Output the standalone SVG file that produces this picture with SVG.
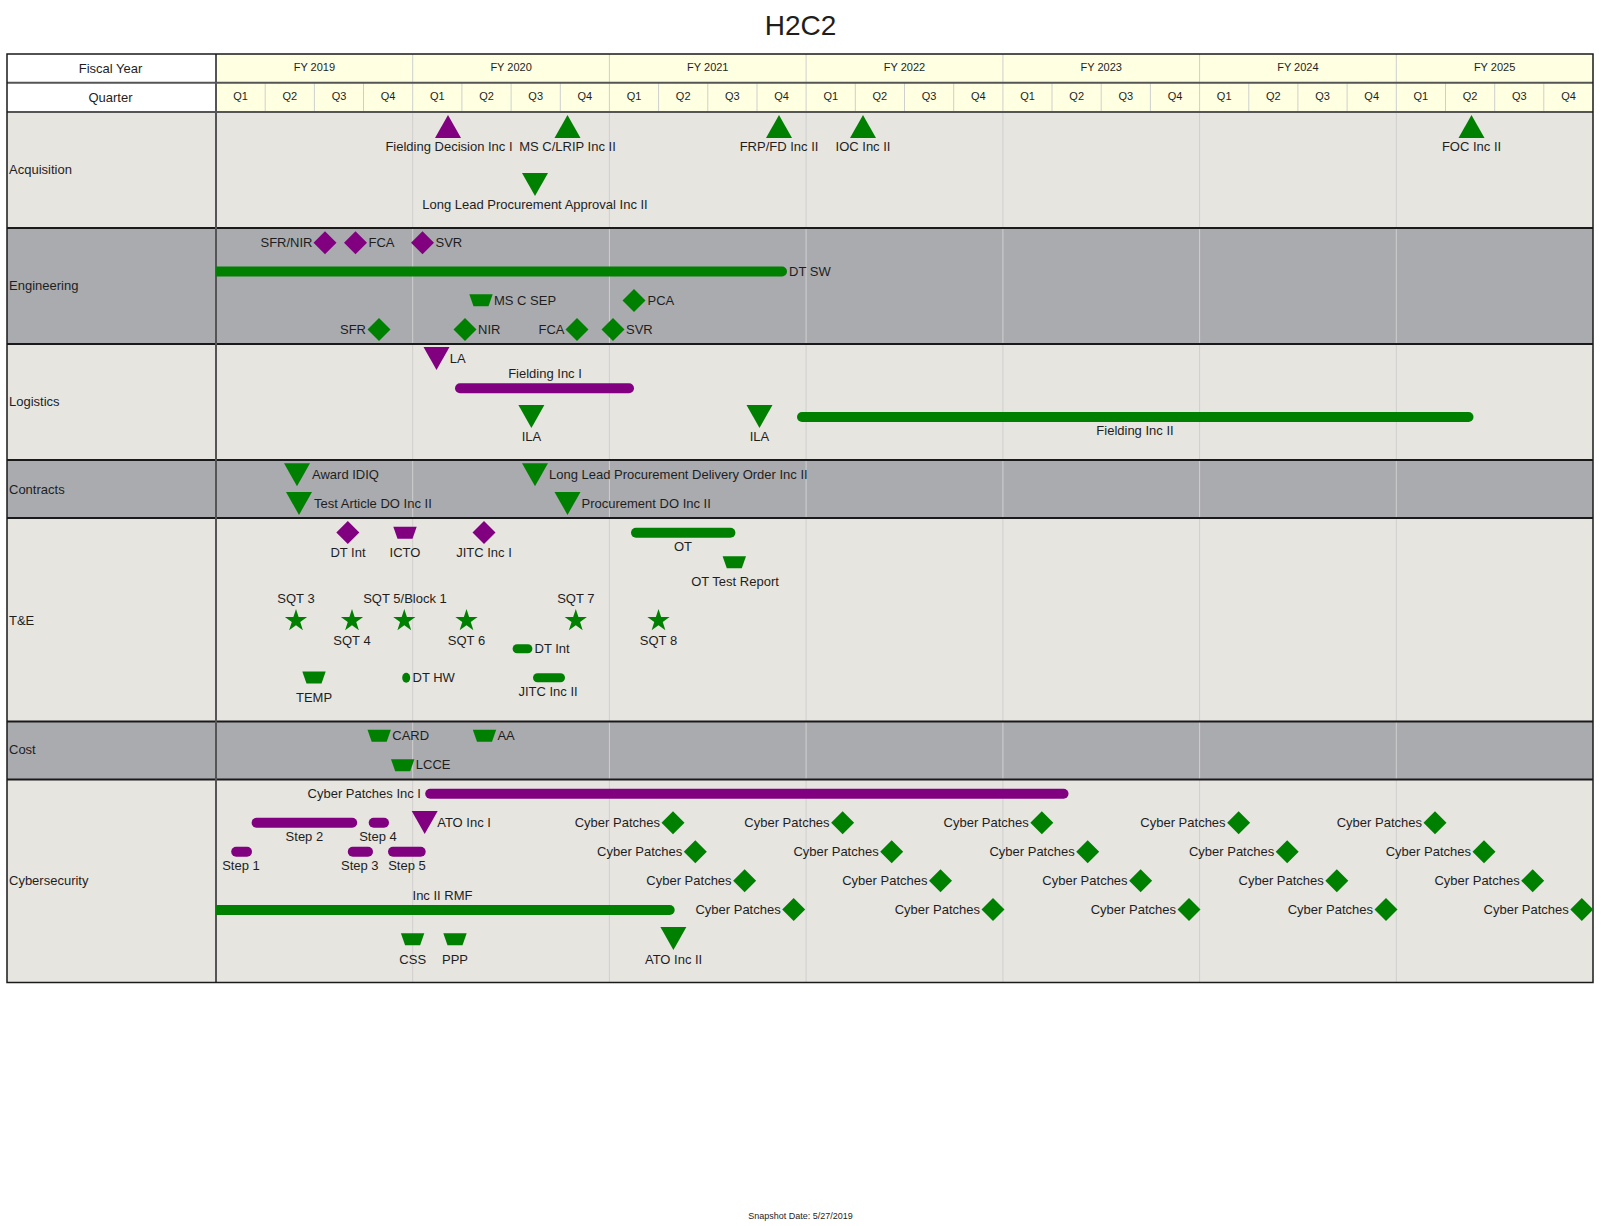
<svg xmlns="http://www.w3.org/2000/svg" xmlns:xlink="http://www.w3.org/1999/xlink" width="1601" height="1226" viewBox="0 0 1601 1226">
<style>
text{font-family:"Liberation Sans",Arial,sans-serif;font-size:13px;fill:#1e1e1e}
.hd{font-size:11px}
.m{text-anchor:middle}
.e{text-anchor:end}
.g{fill:#008000}
.p{fill:#800080}
.lt{fill:#E6E5E0}
.dk{fill:#AAABAF}
.yl{stroke:#CFCFCF;stroke-width:1}
.ql{stroke:#CFCFCF;stroke-width:1}
.rs{stroke:#1a1a1a;stroke-width:2}
.hs{stroke:#555;stroke-width:2}
</style>
<defs>
<path id="dia" d="M0,-11.5 L11.5,0 L0,11.5 L-11.5,0 Z"/>
<path id="up" d="M0,-11.5 L13,11.5 L-13,11.5 Z"/>
<path id="dn" d="M-13,-11.5 L13,-11.5 L0,11.5 Z"/>
<path id="trap" d="M-11.7,-6 L11.7,-6 L7.5,6 L-7.5,6 Z"/>
<path id="star" d="M0,-11.7 L2.63,-3.62 L11.13,-3.62 L4.25,1.38 L6.88,9.47 L0,4.47 L-6.88,9.47 L-4.25,1.38 L-11.13,-3.62 L-2.63,-3.62 Z"/>
</defs>
<rect width="1601" height="1226" fill="#fff"/>
<text x="800.5" y="34.5" class="m" style="font-size:28px">H2C2</text>

<g id="grid">
<rect x="7" y="54" width="209" height="58" fill="#fff"/>
<rect x="216" y="54" width="1377" height="58" fill="#FFFFE1"/>
<rect x="7" y="112" width="1586" height="116" class="lt"/>
<rect x="7" y="228" width="1586" height="116" class="dk"/>
<rect x="7" y="344" width="1586" height="116" class="lt"/>
<rect x="7" y="460" width="1586" height="58" class="dk"/>
<rect x="7" y="518" width="1586" height="203.5" class="lt"/>
<rect x="7" y="721.5" width="1586" height="58" class="dk"/>
<rect x="7" y="779.5" width="1586" height="203" class="lt"/>
<g class="ql">
<path d="M265.2,82.7V112M314.4,82.7V112M363.5,82.7V112M461.9,82.7V112M511.1,82.7V112M560.3,82.7V112M658.6,82.7V112M707.8,82.7V112M757,82.7V112M855.3,82.7V112M904.5,82.7V112M953.7,82.7V112M1052,82.7V112M1101.2,82.7V112M1150.4,82.7V112M1248.8,82.7V112M1297.9,82.7V112M1347.1,82.7V112M1445.5,82.7V112M1494.7,82.7V112M1543.8,82.7V112"/>
</g>
<g class="yl">
<path d="M412.7,54V982.5M609.4,54V982.5M806.1,54V982.5M1002.9,54V982.5M1199.6,54V982.5M1396.3,54V982.5"/>
</g>
<path class="hs" d="M7,82.7H1593M7,112H1593"/>
<path class="rs" d="M7,228H1593M7,344H1593M7,460H1593M7,518H1593M7,721.5H1593M7,779.5H1593"/>
<path d="M216,54V982.5" stroke="#555" stroke-width="2"/>
<rect x="7" y="54" width="1586" height="928.5" fill="none" stroke="#1a1a1a" stroke-width="1.5"/>
</g>

<g id="header">
<text x="110.5" y="73" class="m">Fiscal Year</text>
<text x="110.5" y="101.5" class="m">Quarter</text>
<g class="hd">
<text x="314.4" y="70.7" class="m hd">FY 2019</text>
<text x="511.1" y="70.7" class="m hd">FY 2020</text>
<text x="707.8" y="70.7" class="m hd">FY 2021</text>
<text x="904.5" y="70.7" class="m hd">FY 2022</text>
<text x="1101.2" y="70.7" class="m hd">FY 2023</text>
<text x="1297.9" y="70.7" class="m hd">FY 2024</text>
<text x="1494.6" y="70.7" class="m hd">FY 2025</text>
<text x="240.6" y="99.7" class="m hd">Q1</text><text x="289.8" y="99.7" class="m hd">Q2</text><text x="339" y="99.7" class="m hd">Q3</text><text x="388.1" y="99.7" class="m hd">Q4</text>
<text x="437.3" y="99.7" class="m hd">Q1</text><text x="486.5" y="99.7" class="m hd">Q2</text><text x="535.7" y="99.7" class="m hd">Q3</text><text x="584.9" y="99.7" class="m hd">Q4</text>
<text x="634" y="99.7" class="m hd">Q1</text><text x="683.2" y="99.7" class="m hd">Q2</text><text x="732.4" y="99.7" class="m hd">Q3</text><text x="781.6" y="99.7" class="m hd">Q4</text>
<text x="830.8" y="99.7" class="m hd">Q1</text><text x="879.9" y="99.7" class="m hd">Q2</text><text x="929.1" y="99.7" class="m hd">Q3</text><text x="978.3" y="99.7" class="m hd">Q4</text>
<text x="1027.5" y="99.7" class="m hd">Q1</text><text x="1076.7" y="99.7" class="m hd">Q2</text><text x="1125.8" y="99.7" class="m hd">Q3</text><text x="1175" y="99.7" class="m hd">Q4</text>
<text x="1224.2" y="99.7" class="m hd">Q1</text><text x="1273.4" y="99.7" class="m hd">Q2</text><text x="1322.6" y="99.7" class="m hd">Q3</text><text x="1371.7" y="99.7" class="m hd">Q4</text>
<text x="1420.9" y="99.7" class="m hd">Q1</text><text x="1470.1" y="99.7" class="m hd">Q2</text><text x="1519.3" y="99.7" class="m hd">Q3</text><text x="1568.5" y="99.7" class="m hd">Q4</text>
</g>
</g>

<g id="row-labels">
<text x="9" y="174">Acquisition</text>
<text x="9" y="290">Engineering</text>
<text x="9" y="406">Logistics</text>
<text x="9" y="493.5">Contracts</text>
<text x="9" y="624.5">T&amp;E</text>
<text x="9" y="754">Cost</text>
<text x="9" y="885">Cybersecurity</text>
</g>

<g id="connectors"></g>

<!-- Acquisition -->
<g id="acq-fielding-decision"><use href="#up" x="448" y="126.5" class="p"/><text x="449" y="151" class="m">Fielding Decision Inc I</text></g>
<g id="acq-msc-lrip"><use href="#up" x="567.5" y="126.5" class="g"/><text x="567.5" y="151" class="m">MS C/LRIP Inc II</text></g>
<g id="acq-frp-fd"><use href="#up" x="779" y="126.5" class="g"/><text x="779" y="151" class="m">FRP/FD Inc II</text></g>
<g id="acq-ioc"><use href="#up" x="863" y="126.5" class="g"/><text x="863" y="151" class="m">IOC Inc II</text></g>
<g id="acq-foc"><use href="#up" x="1471.5" y="126.5" class="g"/><text x="1471.5" y="151" class="m">FOC Inc II</text></g>
<g id="acq-llp-approval"><use href="#dn" x="535" y="184.5" class="g"/><text x="535" y="208.5" class="m">Long Lead Procurement Approval Inc II</text></g>

<!-- Engineering -->
<g id="eng-sfr-nir"><use href="#dia" x="325" y="242.7" class="p"/><text x="312.5" y="247.2" class="e">SFR/NIR</text></g>
<g id="eng-fca-p"><use href="#dia" x="355.5" y="242.7" class="p"/><text x="368.5" y="247.2">FCA</text></g>
<g id="eng-svr-p"><use href="#dia" x="422.5" y="242.7" class="p"/><text x="435.5" y="247.2">SVR</text></g>
<g id="eng-dt-sw"><path d="M216,266.5H782A5,5 0 0 1 782,276.5H216Z" class="g"/><text x="789" y="276">DT SW</text></g>
<g id="eng-msc-sep"><use href="#trap" x="481" y="300.3" class="g"/><text x="494" y="305">MS C SEP</text></g>
<g id="eng-pca"><use href="#dia" x="634" y="300.5" class="g"/><text x="647.5" y="305">PCA</text></g>
<g id="eng-sfr"><use href="#dia" x="379" y="329.5" class="g"/><text x="366" y="334" class="e">SFR</text></g>
<g id="eng-nir"><use href="#dia" x="465" y="329.5" class="g"/><text x="478" y="334">NIR</text></g>
<g id="eng-fca"><use href="#dia" x="577" y="329.5" class="g"/><text x="564.5" y="334" class="e">FCA</text></g>
<g id="eng-svr"><use href="#dia" x="613" y="329.5" class="g"/><text x="626" y="334">SVR</text></g>

<!-- Logistics -->
<g id="log-la"><use href="#dn" x="436.5" y="358.5" class="p"/><text x="449.8" y="363">LA</text></g>
<g id="log-fielding-inc1"><text x="545" y="377.8" class="m">Fielding Inc I</text><rect x="455" y="383.3" width="179" height="10" rx="5" class="p"/></g>
<g id="log-ila1"><use href="#dn" x="531.4" y="416.5" class="g"/><text x="531.4" y="441.2" class="m">ILA</text></g>
<g id="log-ila2"><use href="#dn" x="759.5" y="416.5" class="g"/><text x="759.5" y="441.2" class="m">ILA</text></g>
<g id="log-fielding-inc2"><rect x="797" y="412" width="676.5" height="10" rx="5" class="g"/><text x="1135" y="434.5" class="m">Fielding Inc II</text></g>

<!-- Contracts -->
<g id="con-award-idiq"><use href="#dn" x="297" y="474.7" class="g"/><text x="312" y="479.3">Award IDIQ</text></g>
<g id="con-test-article"><use href="#dn" x="299" y="503.5" class="g"/><text x="314" y="508">Test Article DO Inc II</text></g>
<g id="con-llp-do"><use href="#dn" x="535" y="474.7" class="g"/><text x="549" y="479.3">Long Lead Procurement Delivery Order Inc II</text></g>
<g id="con-procurement-do"><use href="#dn" x="567.5" y="503.5" class="g"/><text x="581.5" y="508">Procurement DO Inc II</text></g>

<!-- T&E -->
<g id="te-dt-int-p"><use href="#dia" x="347.8" y="532.5" class="p"/><text x="348" y="556.5" class="m">DT Int</text></g>
<g id="te-icto"><use href="#trap" x="405" y="532.8" class="p"/><text x="405" y="556.5" class="m">ICTO</text></g>
<g id="te-jitc-inc1"><use href="#dia" x="484" y="532.5" class="p"/><text x="484" y="556.5" class="m">JITC Inc I</text></g>
<g id="te-ot"><rect x="631" y="527.7" width="104.4" height="10" rx="5" class="g"/><text x="683" y="550.5" class="m">OT</text></g>
<g id="te-ot-report"><use href="#trap" x="734.3" y="562.2" class="g"/><text x="735" y="586" class="m">OT Test Report</text></g>
<g id="te-sqt3"><use href="#star" x="296" y="620.7" class="g"/><text x="296" y="602.8" class="m">SQT 3</text></g>
<g id="te-sqt4"><use href="#star" x="352" y="620.7" class="g"/><text x="352" y="644.5" class="m">SQT 4</text></g>
<g id="te-sqt5"><use href="#star" x="404.3" y="620.7" class="g"/><text x="405" y="602.8" class="m">SQT 5/Block 1</text></g>
<g id="te-sqt6"><use href="#star" x="466.5" y="620.7" class="g"/><text x="466.5" y="644.5" class="m">SQT 6</text></g>
<g id="te-sqt7"><use href="#star" x="575.8" y="620.7" class="g"/><text x="575.8" y="602.8" class="m">SQT 7</text></g>
<g id="te-sqt8"><use href="#star" x="658.5" y="620.7" class="g"/><text x="658.5" y="644.5" class="m">SQT 8</text></g>
<g id="te-dt-int"><rect x="512.6" y="644.2" width="19.8" height="9" rx="4.5" class="g"/><text x="534.5" y="653">DT Int</text></g>
<g id="te-temp"><use href="#trap" x="314" y="677.5" class="g"/><text x="314" y="702" class="m">TEMP</text></g>
<g id="te-dt-hw"><ellipse cx="406.2" cy="677.7" rx="4" ry="5" class="g"/><text x="412.5" y="682.2">DT HW</text></g>
<g id="te-jitc-inc2"><rect x="533" y="673.2" width="32" height="9" rx="4.5" class="g"/><text x="548" y="695.5" class="m">JITC Inc II</text></g>

<!-- Cost -->
<g id="cost-card"><use href="#trap" x="379.2" y="735.8" class="g"/><text x="392.3" y="740.2">CARD</text></g>
<g id="cost-aa"><use href="#trap" x="484.5" y="735.8" class="g"/><text x="497.4" y="740.2">AA</text></g>
<g id="cost-lcce"><use href="#trap" x="402.7" y="765.2" class="g"/><text x="415.8" y="769.2">LCCE</text></g>

<!-- Cybersecurity -->
<g id="cy-patches-inc1"><text x="421" y="798.2" class="e">Cyber Patches Inc I</text><rect x="425.2" y="788.7" width="643.3" height="10" rx="5" class="p"/></g>
<g id="cy-step2"><rect x="251.6" y="817.7" width="105.6" height="10" rx="5" class="p"/><text x="304.4" y="841.2" class="m">Step 2</text></g>
<g id="cy-step4"><rect x="368.7" y="817.7" width="20.3" height="10" rx="5" class="p"/><text x="378" y="841.2" class="m">Step 4</text></g>
<g id="cy-ato-inc1"><use href="#dn" x="424.7" y="822.6" class="p"/><text x="437.2" y="827">ATO Inc I</text></g>
<g id="cy-step1"><rect x="231.2" y="846.7" width="20.8" height="10" rx="5" class="p"/><text x="241" y="870.2" class="m">Step 1</text></g>
<g id="cy-step3"><rect x="347.8" y="846.7" width="25.2" height="10" rx="5" class="p"/><text x="359.8" y="870.2" class="m">Step 3</text></g>
<g id="cy-step5"><rect x="388" y="846.7" width="37.7" height="10" rx="5" class="p"/><text x="407" y="870.2" class="m">Step 5</text></g>
<g id="cy-inc2-rmf"><text x="442.5" y="900.2" class="m">Inc II RMF</text><path d="M216,905H669.7A5,5 0 0 1 669.7,915H216Z" class="g"/></g>
<g id="cy-css"><use href="#trap" x="412.6" y="939.2" class="g"/><text x="412.7" y="963.5" class="m">CSS</text></g>
<g id="cy-ppp"><use href="#trap" x="455" y="939.2" class="g"/><text x="455" y="963.5" class="m">PPP</text></g>
<g id="cy-ato-inc2"><use href="#dn" x="673.4" y="938.5" class="g"/><text x="673.6" y="963.5" class="m">ATO Inc II</text></g>

<g id="cy-patches-a1"><use href="#dia" x="673" y="822.7" class="g"/><text x="660" y="827.2" class="e">Cyber Patches</text></g>
<g id="cy-patches-a2"><use href="#dia" x="842.6" y="822.7" class="g"/><text x="829.6" y="827.2" class="e">Cyber Patches</text></g>
<g id="cy-patches-a3"><use href="#dia" x="1041.8" y="822.7" class="g"/><text x="1028.8" y="827.2" class="e">Cyber Patches</text></g>
<g id="cy-patches-a4"><use href="#dia" x="1238.6" y="822.7" class="g"/><text x="1225.6" y="827.2" class="e">Cyber Patches</text></g>
<g id="cy-patches-a5"><use href="#dia" x="1435" y="822.7" class="g"/><text x="1422" y="827.2" class="e">Cyber Patches</text></g>
<g id="cy-patches-b1"><use href="#dia" x="695.3" y="851.7" class="g"/><text x="682.3" y="856.2" class="e">Cyber Patches</text></g>
<g id="cy-patches-b2"><use href="#dia" x="891.7" y="851.7" class="g"/><text x="878.7" y="856.2" class="e">Cyber Patches</text></g>
<g id="cy-patches-b3"><use href="#dia" x="1087.7" y="851.7" class="g"/><text x="1074.7" y="856.2" class="e">Cyber Patches</text></g>
<g id="cy-patches-b4"><use href="#dia" x="1287.2" y="851.7" class="g"/><text x="1274.2" y="856.2" class="e">Cyber Patches</text></g>
<g id="cy-patches-b5"><use href="#dia" x="1484" y="851.7" class="g"/><text x="1471" y="856.2" class="e">Cyber Patches</text></g>
<g id="cy-patches-c1"><use href="#dia" x="744.6" y="880.7" class="g"/><text x="731.6" y="885.2" class="e">Cyber Patches</text></g>
<g id="cy-patches-c2"><use href="#dia" x="940.5" y="880.7" class="g"/><text x="927.5" y="885.2" class="e">Cyber Patches</text></g>
<g id="cy-patches-c3"><use href="#dia" x="1140.6" y="880.7" class="g"/><text x="1127.6" y="885.2" class="e">Cyber Patches</text></g>
<g id="cy-patches-c4"><use href="#dia" x="1336.8" y="880.7" class="g"/><text x="1323.8" y="885.2" class="e">Cyber Patches</text></g>
<g id="cy-patches-c5"><use href="#dia" x="1532.7" y="880.7" class="g"/><text x="1519.7" y="885.2" class="e">Cyber Patches</text></g>
<g id="cy-patches-d1"><use href="#dia" x="793.7" y="909.5" class="g"/><text x="780.7" y="914" class="e">Cyber Patches</text></g>
<g id="cy-patches-d2"><use href="#dia" x="993" y="909.5" class="g"/><text x="980" y="914" class="e">Cyber Patches</text></g>
<g id="cy-patches-d3"><use href="#dia" x="1189" y="909.5" class="g"/><text x="1176" y="914" class="e">Cyber Patches</text></g>
<g id="cy-patches-d4"><use href="#dia" x="1386" y="909.5" class="g"/><text x="1373" y="914" class="e">Cyber Patches</text></g>
<g id="cy-patches-d5"><use href="#dia" x="1581.8" y="909.5" class="g"/><text x="1568.8" y="914" class="e">Cyber Patches</text></g>

<text x="800.5" y="1219" class="m" style="font-size:9px">Snapshot Date: 5/27/2019</text>
</svg>
